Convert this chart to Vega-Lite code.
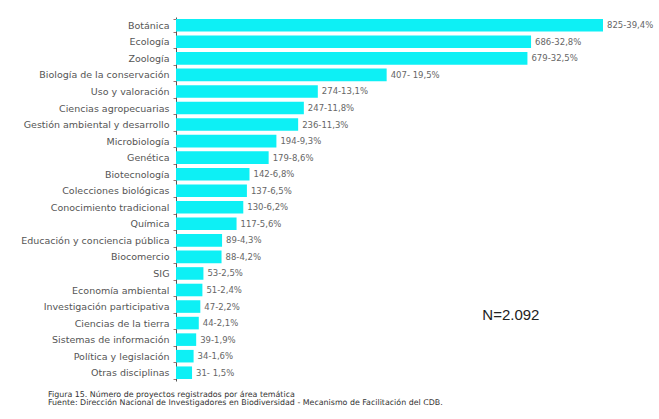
{
  "$schema": "https://vega.github.io/schema/vega-lite/v6.json",
  "autosize": {"type": "none"},
  "width": 427,
  "height": 364,
  "padding": {"left": 176, "top": 17, "right": 56, "bottom": 38},
  "background": "white",
  "config": {"view": {"stroke": null}, "font": "DejaVu Sans"},
  "title": {
    "text": ["Figura 15. Número de proyectos registrados por área temática", "Fuente: Dirección Nacional de Investigadores en Biodiversidad - Mecanismo de Facilitación del CDB."],
    "orient": "bottom",
    "anchor": "start",
    "frame": "group",
    "dx": -128,
    "offset": 10,
    "font": "DejaVu Sans",
    "fontSize": 7.9,
    "fontWeight": "normal",
    "color": "#333333",
    "lineHeight": 8
  },
  "data": {
    "values": [
      {"area": "Botánica", "n": 825, "label": "825-39,4%"},
      {"area": "Ecología", "n": 686, "label": "686-32,8%"},
      {"area": "Zoología", "n": 679, "label": "679-32,5%"},
      {"area": "Biología de la conservación", "n": 407, "label": "407- 19,5%"},
      {"area": "Uso y valoración", "n": 274, "label": "274-13,1%"},
      {"area": "Ciencias agropecuarias", "n": 247, "label": "247-11,8%"},
      {"area": "Gestión ambiental y desarrollo", "n": 236, "label": "236-11,3%"},
      {"area": "Microbiología", "n": 194, "label": "194-9,3%"},
      {"area": "Genética", "n": 179, "label": "179-8,6%"},
      {"area": "Biotecnología", "n": 142, "label": "142-6,8%"},
      {"area": "Colecciones biológicas", "n": 137, "label": "137-6,5%"},
      {"area": "Conocimiento tradicional", "n": 130, "label": "130-6,2%"},
      {"area": "Química", "n": 117, "label": "117-5,6%"},
      {"area": "Educación y conciencia pública", "n": 89, "label": "89-4,3%"},
      {"area": "Biocomercio", "n": 88, "label": "88-4,2%"},
      {"area": "SIG", "n": 53, "label": "53-2,5%"},
      {"area": "Economía ambiental", "n": 51, "label": "51-2,4%"},
      {"area": "Investigación participativa", "n": 47, "label": "47-2,2%"},
      {"area": "Ciencias de la tierra", "n": 44, "label": "44-2,1%"},
      {"area": "Sistemas de información", "n": 39, "label": "39-1,9%"},
      {"area": "Política y legislación", "n": 34, "label": "34-1,6%"},
      {"area": "Otras disciplinas", "n": 31, "label": "31- 1,5%"}
    ]
  },
  "encoding": {
    "y": {
      "field": "area",
      "type": "nominal",
      "sort": null,
      "scale": {"paddingInner": 0.24, "paddingOuter": 0.12},
      "axis": {
        "title": null,
        "labelFont": "DejaVu Sans",
        "labelFontSize": 9.5,
        "labelColor": "#555555",
        "labelPadding": 4,
        "labelLimit": 200,
        "domainColor": "#555555",
        "domainWidth": 1,
        "tickColor": "#a07070",
        "tickSize": 3,
        "tickBand": "extent"
      }
    },
    "x": {
      "field": "n",
      "type": "quantitative",
      "scale": {"domain": [0, 825], "nice": false},
      "axis": null
    }
  },
  "layer": [
    {"mark": {"type": "bar", "color": "#0df0f5"}},
    {
      "mark": {"type": "text", "align": "left", "dx": 4, "font": "DejaVu Sans", "fontSize": 8.5, "color": "#666666"},
      "encoding": {"text": {"field": "label"}}
    },
    {
      "data": {"values": [{"x": 647, "y": "Investigación participativa", "t": "N=2.092"}]},
      "mark": {"type": "text", "font": "Liberation Sans", "fontSize": 15, "color": "#222222", "align": "center", "dy": 8},
      "encoding": {
        "x": {"field": "x", "type": "quantitative"},
        "y": {"field": "y", "type": "nominal"},
        "text": {"field": "t"}
      }
    }
  ]
}
